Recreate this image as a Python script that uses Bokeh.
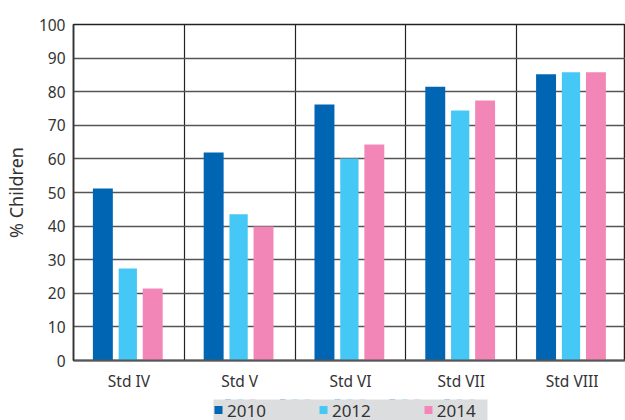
from bokeh.plotting import figure
from bokeh.models import Range1d, FixedTicker, Legend, LegendItem, ColumnDataSource
from bokeh.layouts import column
from bokeh.embed import file_html
from bokeh.resources import INLINE

categories = ["Std IV", "Std V", "Std VI", "Std VII", "Std VIII"]
years = ["2010", "2012", "2014"]
v2010 = [51.2, 61.9, 76.2, 81.5, 85.2]
v2012 = [27.4, 43.5, 60.1, 74.4, 85.8]
v2014 = [21.4, 39.9, 64.3, 77.4, 85.8]
colors = ["#0066b3", "#45c8f5", "#f287b7"]
y_ticks = list(range(0, 101, 10))

FONT = "Noto Sans"
TXT = "#333333"

p = figure(width=625, height=395, output_backend="svg", toolbar_location=None,
           x_range=Range1d(-0.5, 4.482), y_range=Range1d(0, 100),
           min_border_left=72, min_border_right=0, min_border_top=24, min_border_bottom=35,
           frame_align=False)
p.background_fill_color = "white"
p.border_fill_color = "white"
p.outline_line_color = "#222222"
p.outline_line_width = 1.5

offsets = [-0.235, -0.01, 0.215]
widths = [0.18, 0.165, 0.18]
sources = []
for vals, col, off, w in zip([v2010, v2012, v2014], colors, offsets, widths):
    xs = [i + off for i in range(len(categories))]
    src = ColumnDataSource(dict(x=xs, top=vals))
    sources.append(src)
    p.vbar(x="x", top="top", width=w, bottom=0, source=src, fill_color=col, line_color=None)

# axes
p.xaxis.ticker = FixedTicker(ticks=list(range(len(categories))))
p.xaxis.major_label_overrides = {i: c for i, c in enumerate(categories)}
p.xaxis.major_tick_out = 0
p.xaxis.major_tick_in = 0
p.xaxis.minor_tick_out = 0
p.xaxis.minor_tick_in = 0
p.xaxis.major_tick_line_color = None
p.xaxis.minor_tick_line_color = None
p.xaxis.axis_line_color = "#555555"
p.xaxis.axis_line_width = 2
p.xaxis.major_label_text_font = FONT
p.xaxis.major_label_text_font_size = "15.5px"
p.xaxis.major_label_text_color = TXT
p.xaxis.major_label_standoff = 9

p.yaxis.ticker = FixedTicker(ticks=y_ticks)
p.yaxis.major_tick_out = 0
p.yaxis.major_tick_in = 0
p.yaxis.minor_tick_out = 0
p.yaxis.minor_tick_in = 0
p.yaxis.major_tick_line_color = None
p.yaxis.minor_tick_line_color = None
p.yaxis.axis_line_color = "#333333"
p.yaxis.axis_line_width = 1.5
p.yaxis.major_label_text_font = FONT
p.yaxis.major_label_text_font_size = "15.5px"
p.yaxis.major_label_text_color = TXT
p.yaxis.major_label_standoff = 8
p.yaxis.axis_label = "% Children"
p.yaxis.axis_label_text_font = FONT
p.yaxis.axis_label_text_font_size = "18px"
p.yaxis.axis_label_text_font_style = "normal"
p.yaxis.axis_label_text_color = TXT
p.yaxis.axis_label_standoff = 8

# grids
p.ygrid.ticker = FixedTicker(ticks=y_ticks)
p.ygrid.grid_line_color = "#555555"
p.ygrid.grid_line_width = 1.5
p.xgrid.ticker = FixedTicker(ticks=[0.5, 1.5, 2.5, 3.5])
p.xgrid.grid_line_color = "#222222"
p.xgrid.grid_line_width = 1.2

# legend strip (grey box below the chart)
lg = figure(width=625, height=25, output_backend="svg", toolbar_location=None,
            x_range=Range1d(-0.5, 4.5), y_range=Range1d(-2, -1),
            min_border_left=213, min_border_right=138, min_border_top=4, min_border_bottom=0,
            frame_align=False)
lg.axis.visible = False
lg.grid.visible = False
lg.outline_line_color = None
lg.background_fill_color = "#dcdddf"
lg.border_fill_color = "white"
legend_renderers = []
for src, col in zip(sources, colors):
    r = lg.vbar(x="x", top="top", width=0.1, bottom=0, source=src, fill_color=col, line_color=None)
    legend_renderers.append(r)

legend = Legend(items=[LegendItem(label=y, renderers=[r]) for y, r in zip(years, legend_renderers)],
                orientation="horizontal", location="left")
legend.background_fill_alpha = 0
legend.border_line_color = None
legend.label_text_font = FONT
legend.label_text_font_size = "17px"
legend.label_text_color = TXT
legend.glyph_width = 10
legend.glyph_height = 10
legend.label_standoff = 4
legend.spacing = 52
legend.padding = 12
legend.margin = 0
lg.add_layout(legend, "center")

layout = column(p, lg, spacing=0)
open("out.html", "w").write(file_html(layout, INLINE))
